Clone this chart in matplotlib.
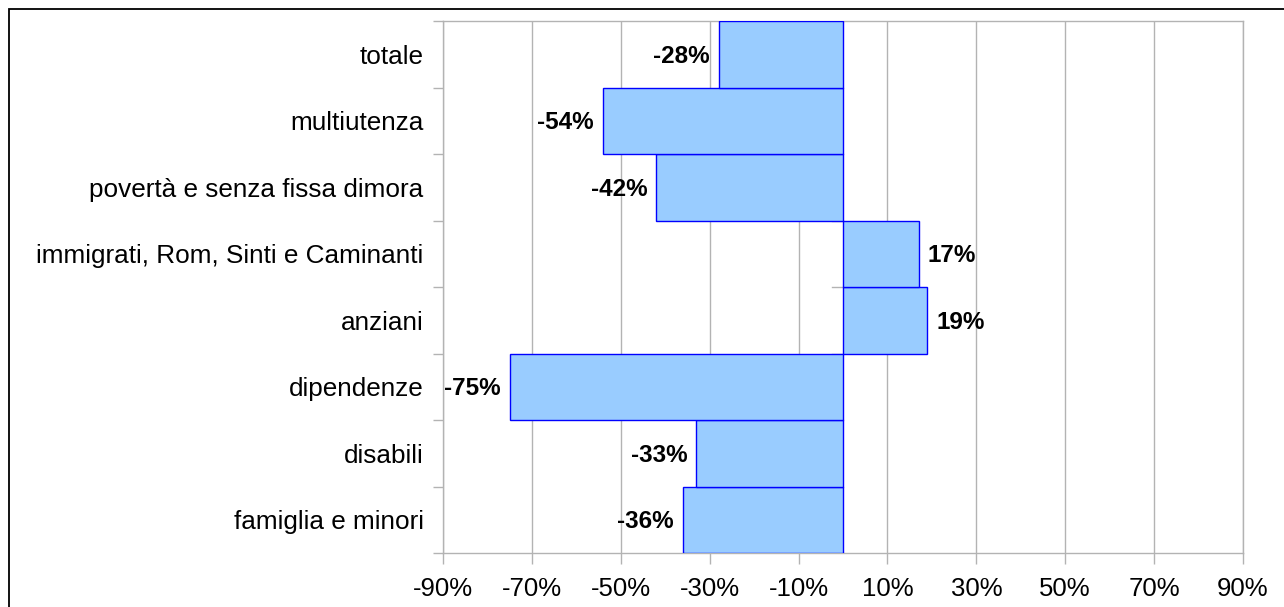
import numpy as np
import matplotlib.pyplot as plt
from matplotlib.patches import Rectangle

plt.rcParams['font.family'] = ['Liberation Sans', 'DejaVu Sans']

categories = ['famiglia e minori', 'disabili', 'dipendenze', 'anziani',
              'immigrati, Rom, Sinti e Caminanti', 'povertà e senza fissa dimora',
              'multiutenza', 'totale']
values = [-36, -33, -75, 19, 17, -42, -54, -28]
xticks = [-90, -70, -50, -30, -10, 10, 30, 50, 70, 90]

fig = plt.figure(figsize=(12.84, 6.07), dpi=100)
ax = fig.add_axes([443/1284, 1-553/607, 800/1284, 532/607])

y = np.arange(len(categories))
ax.barh(y, values, height=1.0, color='#99ccff', edgecolor='#0000ff', linewidth=1, zorder=3)

# small ticks at the zero line between categories (hidden under bars mostly)
for b in np.arange(-0.5, len(categories) + 0.5, 1.0):
    ax.plot([-2.5, 0], [b, b], color='#b3b3b3', lw=1, zorder=2)

for yi, v in zip(y, values):
    if v < 0:
        ax.text(v - 2, yi - 0.03, f'{v}%', ha='right', va='center', fontsize=17.5, fontweight='bold', zorder=4)
    else:
        ax.text(v + 2, yi - 0.03, f'{v}%', ha='left', va='center', fontsize=17.5, fontweight='bold', zorder=4)

ax.set_xlim(-90, 90)
ax.set_ylim(-0.5, len(categories) - 0.5)
ax.set_xticks(xticks)
ax.set_xticklabels([f'{t}%' for t in xticks], fontsize=18.5)
ax.set_yticks(y)
ax.set_yticklabels(categories, fontsize=18.8)
ax.set_yticks(np.arange(-0.5, len(categories), 1.0), minor=True)
ax.tick_params(axis='y', which='major', length=0, pad=14)
ax.tick_params(axis='y', which='minor', length=7.5, color='#b3b3b3', width=1)
ax.tick_params(axis='x', length=8, color='#b3b3b3', width=1, pad=9)
ax.xaxis.grid(True, color='#b3b3b3', lw=1, zorder=0)
ax.set_axisbelow(True)
for s in ax.spines.values():
    s.set_color('#b3b3b3')
    s.set_linewidth(1)

fig.patches.append(Rectangle((9/1284, -0.1), 1.2, 1.1 - 9/607, transform=fig.transFigure,
                             fill=False, edgecolor='black', lw=1.3))

fig.savefig('out.png', dpi=100)
